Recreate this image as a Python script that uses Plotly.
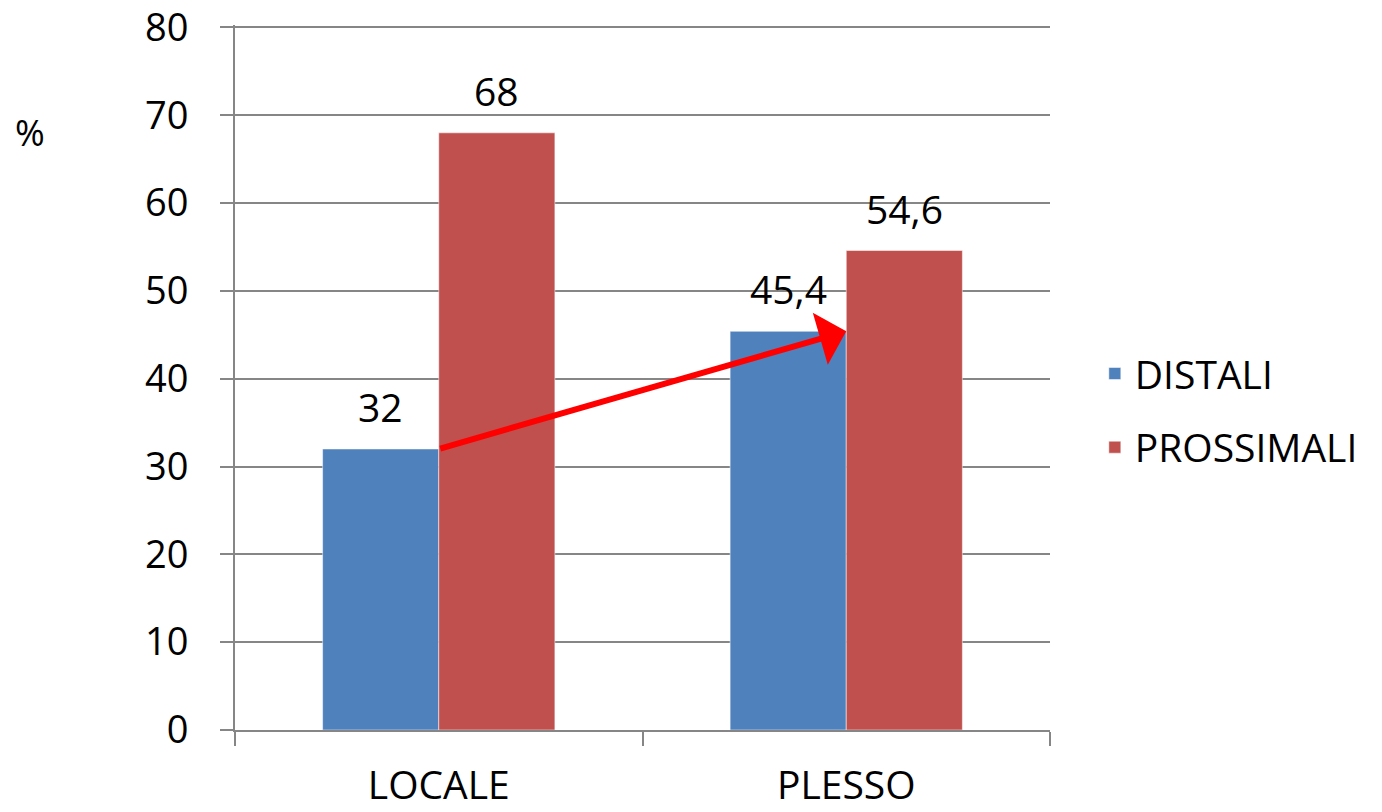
import plotly.graph_objects as go

categories = ["LOCALE", "PLESSO"]
distali = [32, 45.4]
prossimali = [68, 54.6]
distali_labels = ["32", "45,4"]
prossimali_labels = ["68", "54,6"]
y_ticks = [0, 10, 20, 30, 40, 50, 60, 70, 80]

FONT = "Open Sans"
GRID = "#868686"
FS = 39

fig = go.Figure()
fig.add_trace(go.Bar(
    x=categories, y=distali, name="DISTALI",
    marker=dict(color="#4F81BD", line=dict(color="rgba(255,255,255,0.5)", width=1)),
    legendgroup="a",
))
fig.add_trace(go.Bar(
    x=categories, y=prossimali, name="PROSSIMALI",
    marker=dict(color="#C0504D", line=dict(color="rgba(255,255,255,0.5)", width=1)),
    legendgroup="b",
))

# value labels above each bar
for cat, v, lab in zip(categories, distali, distali_labels):
    fig.add_annotation(x=cat, y=v, text=lab, showarrow=False, xshift=-58,
                       yanchor="bottom", yshift=14,
                       font=dict(size=FS, color="black", family=FONT))
for cat, v, lab in zip(categories, prossimali, prossimali_labels):
    fig.add_annotation(x=cat, y=v, text=lab, showarrow=False, xshift=58,
                       yanchor="bottom", yshift=14,
                       font=dict(size=FS, color="black", family=FONT))

# arrow from top of DISTALI LOCALE to DISTALI PLESSO level
fig.add_annotation(
    x=1, y=distali[1], ax=0, ay=distali[0],
    xref="x", yref="y", axref="x", ayref="y",
    showarrow=True, arrowhead=1, arrowsize=1.5, arrowwidth=6,
    arrowcolor="#FF0000", text="", standoff=0,
)

fig.add_annotation(
    x=-0.2515, y=0.848, xref="paper", yref="paper",
    xanchor="center", yanchor="middle",
    text="%", showarrow=False, font=dict(size=36, color="black", family=FONT),
)

fig.update_layout(
    width=1382, height=812,
    margin=dict(l=235, r=332, t=25, b=82, autoexpand=False),
    paper_bgcolor="white", plot_bgcolor="white",
    barmode="group", bargap=0.43, bargroupgap=0,
    font=dict(family=FONT, size=FS, color="black"),
    showlegend=True,
    legend=dict(
        x=1.055, y=0.453, xanchor="left", yanchor="middle",
        font=dict(size=FS, color="black", family=FONT),
        traceorder="grouped", tracegroupgap=20,
        bgcolor="rgba(0,0,0,0)",
    ),
    xaxis=dict(
        range=[-0.5, 1.5], showline=True, linecolor=GRID, linewidth=2,
        ticks="outside", ticklen=14, tickwidth=2, tickcolor=GRID,
        tickson="boundaries", showgrid=False, automargin=False,
        tickfont=dict(size=FS, family=FONT, color="black"),
        ticklabelstandoff=20,
    ),
    yaxis=dict(
        range=[0, 80.28], tickvals=y_ticks, showline=True, linecolor=GRID, linewidth=2,
        ticks="outside", ticklen=13, tickwidth=2, tickcolor=GRID,
        showgrid=True, gridcolor=GRID, gridwidth=2, zeroline=False, automargin=False,
        tickfont=dict(size=38, family=FONT, color="black"),
        ticklabelstandoff=24, ticklabeloverflow="allow",
    ),
)

fig.write_html("out.html")
